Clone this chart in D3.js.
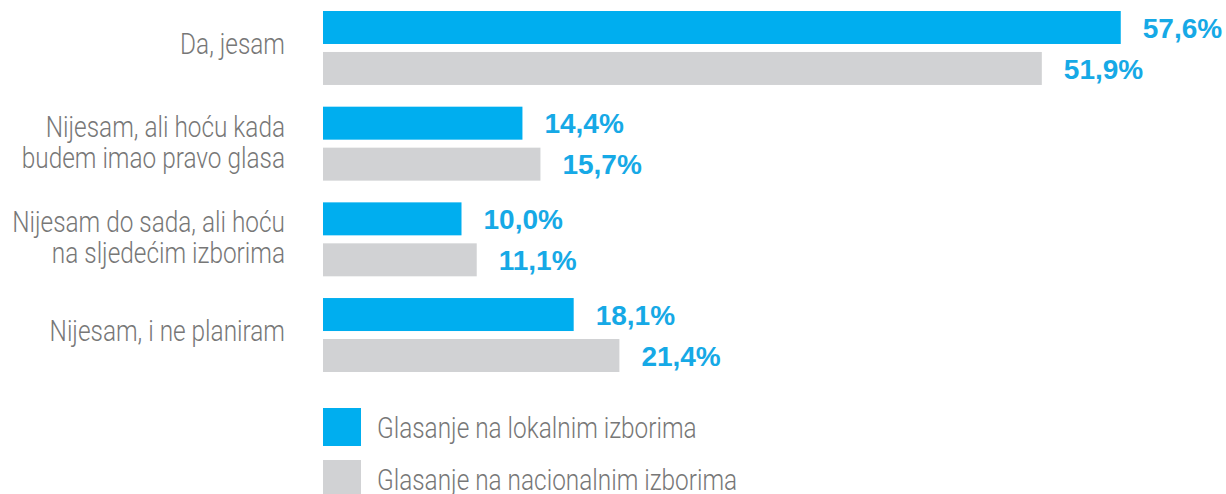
<!DOCTYPE html>
<html>
<head>
<meta charset="utf-8">
<script src="https://cdn.jsdelivr.net/npm/d3@7"></script>
<style>
  html, body { margin: 0; padding: 0; background: #fff; }
  svg { display: block; }
  .cat { font-family: Roboto, "Liberation Sans", sans-serif; font-weight: 300; font-size: 29px; fill: #777; }
  .val { font-family: "Liberation Sans", Arial, sans-serif; font-weight: bold; font-size: 28px; fill: #16a9e6; }
</style>
</head>
<body>
<svg id="chart"></svg>
<script>
const categories = [
  ['Da, jesam'],
  ['Nijesam, ali hoću kada', 'budem imao pravo glasa'],
  ['Nijesam do sada, ali hoću', 'na sljedećim izborima'],
  ['Nijesam, i ne planiram']
];
const seriesNames = ['Glasanje na lokalnim izborima', 'Glasanje na nacionalnim izborima'];
const localValues = [57.6, 14.4, 10.0, 18.1];
const nationalValues = [51.9, 15.7, 11.1, 21.4];
const colors = ['#00aeef', '#d1d2d4'];

const width = 1226, height = 494;
const svg = d3.select('#chart').attr('width', width).attr('height', height);

// condensed look: squeeze the regular font horizontally so that
// "Nijesam do sada, ali hoću" is ~273px wide as in the source
const probe = svg.append('text').attr('class', 'cat').text('Nijesam do sada, ali hoću');
const squeeze = 273 / probe.node().getComputedTextLength();
probe.remove();

const keys = categories.map((c, i) => i);
const y = d3.scaleBand().domain(keys).range([11, 372]).paddingInner(0.227).paddingOuter(0);
const ySub = d3.scaleBand().domain([0, 1]).range([0, y.bandwidth()]).paddingInner(0.195);
const x = d3.scaleLinear().domain([0, 60]).range([323, 323 + 60 * 13.85]);

const fmt = v => v.toFixed(1).replace('.', ',') + '%';

const groups = svg.selectAll('g.grp')
  .data(keys)
  .enter()
  .append('g')
  .attr('class', 'grp')
  .attr('transform', d => `translate(0,${y(d)})`);

groups.each(function(i) {
  const g = d3.select(this);
  const vals = [localValues[i], nationalValues[i]];
  vals.forEach((v, s) => {
    g.append('rect')
      .attr('x', x(0))
      .attr('y', ySub(s))
      .attr('width', x(v) - x(0))
      .attr('height', ySub.bandwidth())
      .attr('fill', colors[s]);
    g.append('text')
      .attr('class', 'val')
      .attr('x', x(v) + 22)
      .attr('y', ySub(s) + ySub.bandwidth() / 2)
      .attr('dy', '0.36em')
      .text(fmt(v));
  });

  // category label, right aligned at x=285
  const lines = categories[i];
  const mid = y.bandwidth() / 2;
  const lh = 31;
  const t = g.append('g')
    .attr('transform', `translate(285,0) scale(${squeeze},1)`)
    .append('text')
    .attr('class', 'cat')
    .attr('text-anchor', 'end');
  lines.forEach((ln, k) => {
    t.append('tspan')
      .attr('x', 0)
      .attr('y', mid + 6 - (lines.length - 1) * 13 + k * lh)
      .text(ln);
  });
});

// legend
const legend = svg.append('g');
seriesNames.forEach((name, s) => {
  const ly = 408 + s * 52;
  legend.append('rect')
    .attr('x', 323).attr('y', ly)
    .attr('width', 38).attr('height', 38)
    .attr('fill', colors[s]);
  legend.append('g')
    .attr('transform', `translate(377,${ly + 30}) scale(${squeeze},1)`)
    .append('text')
    .attr('class', 'cat')
    .text(name);
});
</script>
</body>
</html>
